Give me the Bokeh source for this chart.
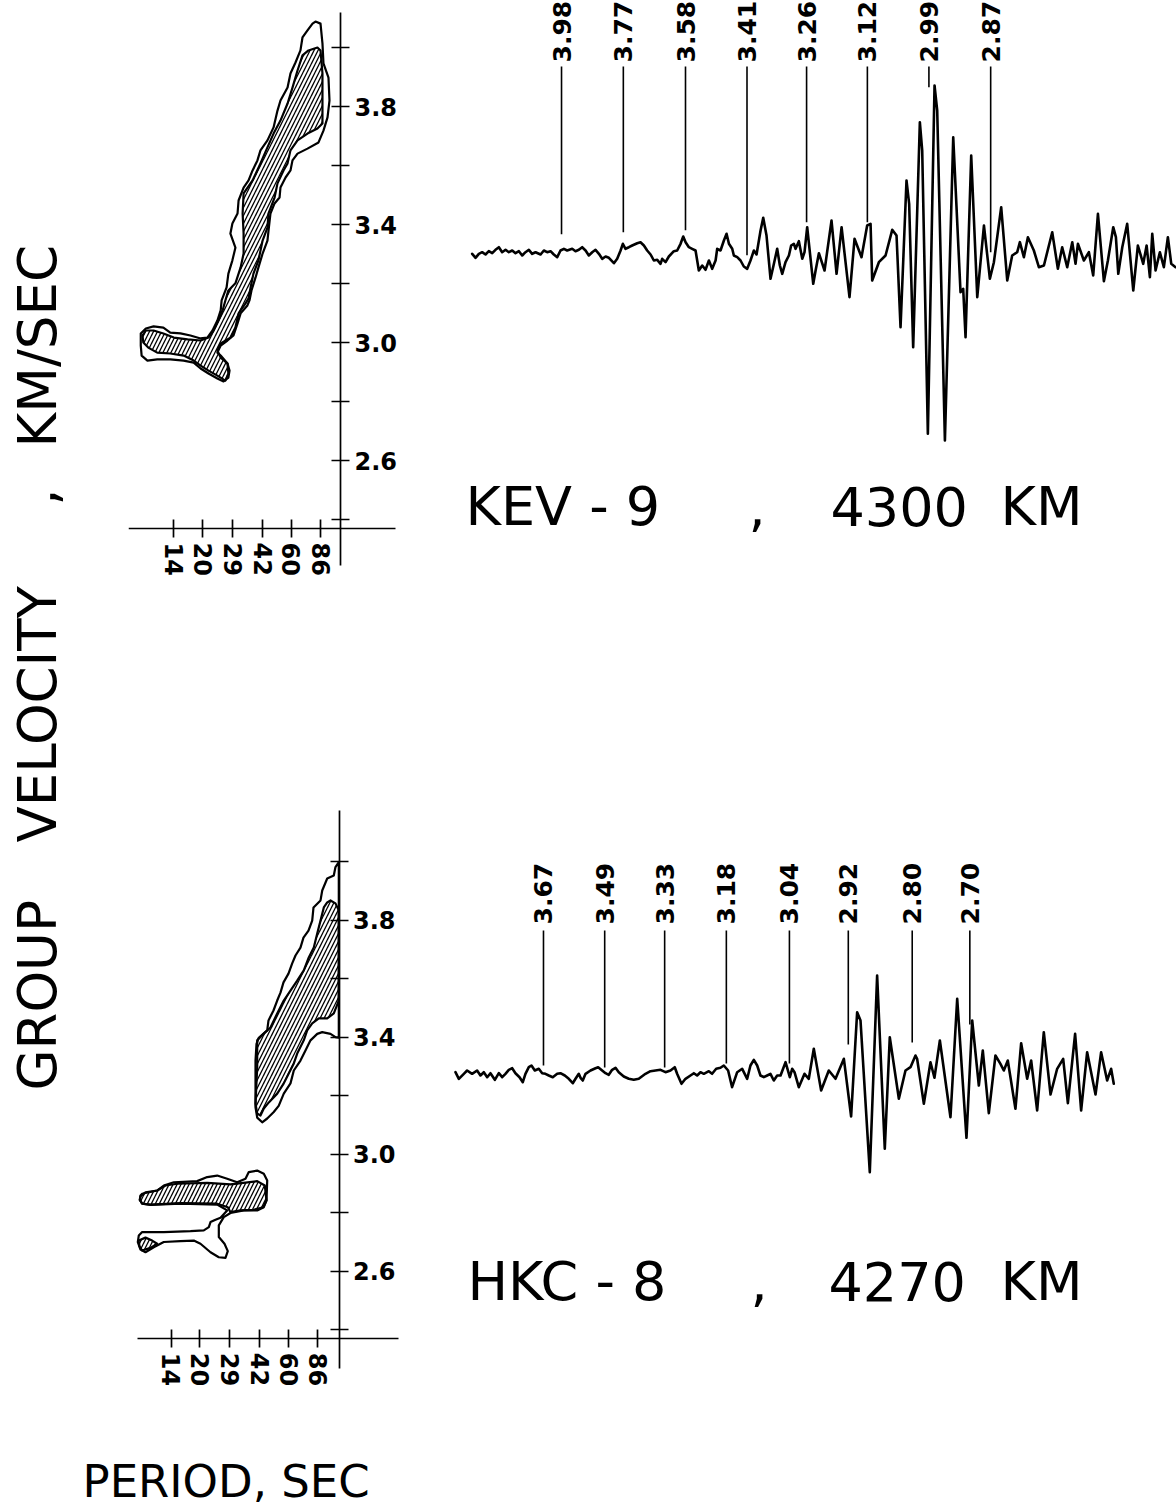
import math

from bokeh.core.properties import value
from bokeh.embed import file_html
from bokeh.layouts import column, row
from bokeh.models import (FixedTicker, Label, LinearAxis, LogAxis,
                          PrintfTickFormatter, Range1d)
from bokeh.plotting import figure
from bokeh.resources import INLINE

FONT = "DejaVu Sans"

# ---------------------------------------------------------------- axes ticks
PERIOD_TICKS = [14, 20, 29, 42, 60, 86]          # s
VEL_MAJOR = [2.6, 3.0, 3.4, 3.8]                 # km/s
VEL_MINOR = [2.4, 2.8, 3.2, 3.6, 4.0]

# ------------------------------------------------ KEV-9 group velocity diagram
KEV_OUTER_P = [80.8, 86.0, 88.1, 89.2, 94.9, 96.1, 93.8, 89.2, 83.9, 73.2,
               64.7, 60.8, 59.3, 55.8, 52.4, 51.8, 48.7, 46.3, 45.2, 44.6,
               42.0, 39.9, 38.5, 36.6, 35.7, 34.8, 32.0, 30.8, 29.3, 27.2,
               25.0, 24.0, 25.0, 27.2, 27.9, 27.5, 25.9, 24.0, 21.5, 19.5,
               17.9, 15.8, 13.4, 11.4, 10.1, 9.4, 9.3, 9.3, 9.9, 10.9,
               12.3, 13.4, 15.2, 17.2, 19.5, 21.2, 22.6, 24.0, 25.0, 25.3,
               26.9, 27.5, 28.9, 30.0, 28.2, 28.9, 30.8, 31.2, 33.2, 35.3,
               37.1, 39.4, 40.9, 44.6, 48.1, 50.5, 52.4, 57.2, 59.3, 63.1,
               67.1, 68.8, 73.2, 77.9]
KEV_OUTER_V = [4.089, 4.082, 4.015, 3.947, 3.899, 3.821, 3.764, 3.719, 3.679, 3.658,
               3.641, 3.618, 3.584, 3.560, 3.526, 3.492, 3.472, 3.438, 3.380, 3.346,
               3.302, 3.255, 3.221, 3.177, 3.143, 3.126, 3.099, 3.065, 3.024, 3.007,
               2.990, 2.966, 2.956, 2.929, 2.905, 2.881, 2.868, 2.878, 2.895, 2.912,
               2.932, 2.939, 2.943, 2.943, 2.939, 2.956, 2.990, 3.031, 3.048, 3.055,
               3.051, 3.034, 3.031, 3.024, 3.014, 3.017, 3.041, 3.075, 3.109, 3.143,
               3.187, 3.234, 3.279, 3.322, 3.370, 3.404, 3.438, 3.482, 3.526, 3.550,
               3.584, 3.618, 3.652, 3.686, 3.730, 3.787, 3.821, 3.865, 3.913, 3.950,
               3.991, 4.035, 4.059, 4.082]

KEV_CORE_P = [82.8, 86.0, 88.1, 88.1, 88.1, 82.8, 73.2, 64.7, 59.3, 57.2,
              54.4, 50.5, 48.7, 45.2, 44.6, 42.0, 39.9, 37.5, 36.2, 35.3,
              34.0, 31.2, 30.0, 28.2, 25.0, 24.0, 25.0, 27.2, 27.5, 26.5,
              24.0, 21.5, 19.5, 17.9, 15.8, 13.4, 11.4, 10.2, 9.6, 9.5,
              9.9, 10.9, 12.3, 14.0, 16.6, 19.5, 21.5, 22.9, 24.3, 25.6,
              26.5, 27.5, 30.0, 32.0, 33.2, 33.2, 32.8, 33.2, 37.1, 40.9,
              44.6, 48.1, 52.4, 57.2, 60.8, 64.7, 68.8, 74.1]
KEV_CORE_V = [4.001, 3.991, 3.913, 3.821, 3.743, 3.726, 3.709, 3.686, 3.652, 3.608,
              3.584, 3.540, 3.492, 3.438, 3.390, 3.346, 3.279, 3.234, 3.187, 3.150,
              3.133, 3.099, 3.051, 3.017, 2.997, 2.973, 2.949, 2.929, 2.895, 2.871,
              2.888, 2.905, 2.922, 2.939, 2.956, 2.963, 2.966, 2.983, 3.000, 3.024,
              3.041, 3.041, 3.031, 3.017, 3.011, 3.007, 3.017, 3.041, 3.075, 3.109,
              3.143, 3.177, 3.201, 3.255, 3.302, 3.370, 3.438, 3.506, 3.550, 3.608,
              3.662, 3.709, 3.753, 3.811, 3.865, 3.923, 3.974, 3.991]

# ------------------------------------------------ HKC-8 group velocity diagram
HKC_OUTER_P = [111.6, 107.1, 104.9, 96.67, 90.89, 88.99, 81.59, 80.28, 76.68, 72.05,
               69.42, 65.27, 62.66, 59.84, 56.26, 54.20, 52.04, 49.70, 46.72, 45.98,
               41.43, 40.27, 39.78, 39.78, 39.78, 40.62, 43.21, 45.98, 49.87, 53.0,
               56.45, 61.34, 63.92, 69.42, 73.87, 78.60, 85.43, 90.89, 100.7, 107.1,
               111.6, 111.6]
HKC_OUTER_V = [3.998, 3.981, 3.952, 3.942, 3.901, 3.867, 3.843, 3.798, 3.764, 3.740,
               3.706, 3.679, 3.652, 3.617, 3.587, 3.552, 3.525, 3.491, 3.457, 3.423,
               3.398, 3.377, 3.320, 3.235, 3.160, 3.125, 3.109, 3.122, 3.144, 3.165,
               3.207, 3.242, 3.286, 3.320, 3.354, 3.389, 3.411, 3.417, 3.411, 3.400,
               3.398, 3.700]

HKC_CORE_P = [100.7, 107.1, 111.6, 111.6, 104.9, 96.67, 87.14, 80.28, 75.45, 72.31,
              66.67, 63.92, 60.03, 56.45, 52.04, 46.90, 44.08, 42.31, 40.62, 39.78,
              40.62, 40.62, 44.08, 47.89, 52.04, 56.45, 61.34, 66.67, 72.31, 76.94,
              81.89, 85.43, 88.99, 92.69, 96.67]
HKC_CORE_V = [3.867, 3.857, 3.833, 3.525, 3.481, 3.464, 3.464, 3.447, 3.423, 3.389,
              3.344, 3.310, 3.276, 3.242, 3.207, 3.177, 3.156, 3.132, 3.139, 3.173,
              3.296, 3.389, 3.412, 3.433, 3.481, 3.525, 3.559, 3.593, 3.628, 3.672,
              3.706, 3.754, 3.798, 3.843, 3.860]

HKC_LOW_P = [9.57, 9.77, 11.77, 12.77, 14.46, 19.32, 21.87, 24.75, 28.01, 31.70,
             35.14, 36.60, 40.62, 44.08, 45.98, 45.58, 44.08, 40.62, 34.40, 29.18,
             26.85, 25.25, 25.25, 27.09, 28.22, 27.42, 25.25, 22.78, 20.12, 18.52,
             15.71, 12.77, 11.28, 10.18, 9.57, 9.26, 9.37, 9.77, 12.77, 17.78,
             20.97, 22.31, 22.78, 24.24, 25.78, 28.01, 24.75, 15.71, 10.83, 9.77,
             9.49]
HKC_LOW_V = [2.859, 2.865, 2.876, 2.893, 2.904, 2.908, 2.922, 2.927, 2.916, 2.904,
             2.916, 2.939, 2.944, 2.933, 2.910, 2.842, 2.819, 2.808, 2.808, 2.799,
             2.785, 2.757, 2.717, 2.694, 2.669, 2.646, 2.648, 2.665, 2.694, 2.705,
             2.703, 2.700, 2.682, 2.665, 2.674, 2.700, 2.722, 2.734, 2.734, 2.737,
             2.740, 2.751, 2.768, 2.776, 2.783, 2.808, 2.828, 2.831, 2.827, 2.831,
             2.844]

HKC_ARM_P = [9.57, 10.18, 11.77, 13.04, 15.08, 21.87, 29.18, 35.14, 40.62, 44.64,
             45.58, 43.75, 38.94, 33.03, 29.18, 28.22, 24.75, 15.71, 10.83, 9.77, 9.49]
HKC_ARM_V = [2.856, 2.870, 2.876, 2.893, 2.899, 2.902, 2.897, 2.903, 2.908, 2.893,
             2.842, 2.819, 2.810, 2.808, 2.802, 2.819, 2.831, 2.833, 2.828, 2.831, 2.844]

HKC_BLOB_P = [9.37, 10.18, 11.06, 11.77, 10.83, 9.77, 9.45]
HKC_BLOB_V = [2.705, 2.715, 2.705, 2.694, 2.680, 2.671, 2.685]

# ------------------------------------------------------------- seismograms
KEV_DIST = 4300.0   # km
KEV_VEL = [3.98, 3.77, 3.58, 3.41, 3.26, 3.12, 2.99, 2.87]
KEV_MARK_END = [18, 20, 22, -3, 30, 30, 165, 0]
KEV_T = [993.4, 996.7, 999.9, 1003.1, 1006.4, 1009.6, 1012.9, 1016.1, 1019.4, 1022.6,
         1025.9, 1029.1, 1032.4, 1035.6, 1038.9, 1042.1, 1045.3, 1048.6, 1051.8, 1055.1,
         1060.0, 1063.2, 1066.4, 1069.7, 1072.9, 1076.2, 1079.4, 1082.7, 1085.9, 1090.8,
         1094.0, 1097.3, 1100.5, 1103.8, 1107.0, 1110.3, 1113.5, 1116.8, 1120.0, 1123.3,
         1126.5, 1131.4, 1134.6, 1137.9, 1140.1, 1142.7, 1146.0, 1149.2, 1154.1, 1157.3,
         1160.6, 1163.8, 1167.1, 1170.3, 1173.6, 1176.8, 1178.4, 1181.7, 1184.9, 1189.8,
         1193.0, 1196.3, 1198.9, 1201.2, 1204.4, 1207.6, 1210.9, 1214.1, 1217.4, 1220.6,
         1223.9, 1227.1, 1230.4, 1232.0, 1235.2, 1238.5, 1241.1, 1243.4, 1246.6, 1248.2,
         1251.5, 1254.7, 1257.9, 1261.2, 1264.4, 1267.7, 1270.3, 1274.2, 1276.8, 1280.0,
         1283.9, 1287.2, 1290.4, 1293.0, 1295.3, 1298.5, 1301.8, 1304.0, 1306.6, 1308.3,
         1311.5, 1314.8, 1317.0, 1319.6, 1322.9, 1325.5, 1327.8, 1331.0, 1336.5, 1343.3,
         1348.2, 1353.1, 1360.8, 1365.7, 1372.5, 1378.0, 1381.3, 1382.9, 1389.4, 1395.9,
         1402.4, 1406.6, 1410.5, 1416.3, 1418.9, 1422.8, 1429.3, 1431.6, 1437.1, 1443.6,
         1446.2, 1453.7, 1461.8, 1468.9, 1471.5, 1473.8, 1479.3, 1485.2, 1491.7, 1497.5,
         1501.4, 1508.5, 1514.4, 1519.2, 1524.1, 1526.7, 1530.6, 1534.5, 1540.3, 1545.2,
         1550.1, 1558.2, 1563.7, 1567.9, 1572.8, 1577.7, 1580.9, 1583.2, 1589.0, 1593.9,
         1598.1, 1602.7, 1608.5, 1612.4, 1617.6, 1620.2, 1622.5, 1626.4, 1631.2, 1637.1,
         1641.6, 1646.8, 1650.1, 1653.3, 1655.6, 1658.8, 1663.0, 1666.9, 1670.8, 1674.1,
         1678.3]
KEV_A = [-1.6, -5.6, -1.6, 0.0, -2.3, 1.0, -1.0, 2.4, 5.0, 0.0,
         2.4, 0.0, 1.7, -1.0, 1.0, -3.3, 0.0, 2.4, -1.6, 0.0,
         -2.3, 1.7, 0.0, 1.0, -2.3, -5.0, 1.7, 3.4, 1.7, 3.4,
         1.0, 2.4, 5.0, 1.7, -3.3, 0.0, 2.4, -1.6, -6.6, -4.3,
         -5.6, -11.0, -6.6, 1.7, 8.4, 3.4, 5.0, 6.7, 9.0, 10.0,
         6.7, 1.7, -2.3, -8.3, -7.6, -11.6, -6.6, -10.0, -4.3, 1.0,
         1.7, 8.4, 15.7, 10.0, 5.0, 3.4, 1.7, -18.3, -13.3, -17.6,
         -8.3, -16.6, -8.3, 3.4, 1.7, 11.7, 18.4, 8.4, 3.4, -3.3,
         -5.0, -8.3, -14.3, -16.6, -8.3, 1.7, -2.3, 21.7, 34.4, 16.7,
         -26.6, -11.6, 3.4, -13.3, -21.6, -10.0, -3.3, 6.7, 8.4, 3.4,
         11.0, -6.6, 0.0, 25.0, -6.6, -31.6, -18.3, -1.0, -18.3, 31.7,
         -21.6, 25.0, -45.0, 13.4, -5.0, 26.7, 28.4, -28.3, -10.0, -3.3,
         22.4, 16.7, -75.0, 71.7, 48.4, -95.0, 130.0, 101.7, -181.6, 166.7,
         141.7, -188.3, 115.0, -40.0, -36.6, -85.0, 96.7, -45.0, 26.7, -26.6,
         -10.0, 45.0, -28.3, -3.3, 0.0, 10.0, -5.0, 15.0, 1.7, -15.0,
         -13.3, 20.0, -16.6, 5.0, -15.0, 10.0, -11.6, 8.4, -8.3, 0.0,
         -23.3, 38.4, -29.0, -8.3, 25.0, 15.0, -21.6, 5.0, 28.4, -38.3,
         6.7, -11.6, 6.7, -25.0, 18.4, -18.3, 0.0, -15.0, 15.0, -11.6,
         -15.0]

HKC_DIST = 4270.0   # km
HKC_VEL = [3.67, 3.49, 3.33, 3.18, 3.04, 2.92, 2.80, 2.70]
HKC_MARK_END = [9, 7, 7, 11, 11, 30, 32, 50]
HKC_T = [1077.2, 1080.5, 1085.4, 1088.6, 1093.5, 1098.4, 1101.7, 1105.0, 1108.3, 1111.5,
         1115.8, 1119.7, 1123.0, 1126.2, 1129.5, 1132.8, 1136.0, 1140.0, 1143.2, 1145.8,
         1149.1, 1151.7, 1155.0, 1158.9, 1162.2, 1165.4, 1168.7, 1172.6, 1176.9, 1180.1,
         1184.4, 1188.3, 1192.2, 1194.9, 1198.1, 1199.8, 1202.0, 1204.7, 1209.6, 1214.5,
         1217.1, 1221.0, 1224.3, 1227.5, 1230.8, 1234.1, 1237.3, 1242.2, 1247.1, 1252.0,
         1256.9, 1263.5, 1268.4, 1273.3, 1278.2, 1283.1, 1288.0, 1292.2, 1294.5, 1298.8,
         1302.7, 1307.6, 1310.9, 1314.1, 1317.4, 1320.7, 1325.6, 1328.8, 1332.8, 1337.0,
         1340.3, 1344.5, 1348.4, 1353.4, 1358.3, 1363.2, 1366.4, 1369.7, 1373.0, 1376.2,
         1379.5, 1382.8, 1386.0, 1389.3, 1392.6, 1395.9, 1400.8, 1405.0, 1407.3, 1409.6,
         1413.8, 1419.4, 1423.6, 1428.5, 1435.7, 1443.2, 1449.8, 1458.0, 1465.1, 1471.0,
         1474.3, 1483.4, 1490.6, 1498.1, 1503.0, 1511.9, 1518.4, 1523.3, 1528.2, 1529.8,
         1536.4, 1542.9, 1546.8, 1552.1, 1562.5, 1569.1, 1578.2, 1583.8, 1590.3, 1594.2,
         1600.1, 1606.6, 1611.5, 1614.8, 1618.7, 1626.2, 1631.8, 1637.7, 1641.6, 1647.5,
         1654.0, 1660.6, 1667.1, 1673.0, 1677.6, 1684.7, 1690.6, 1696.5, 1704.7, 1710.2,
         1716.1, 1720.0, 1722.6]
HKC_A = [2.3, -4.3, 0.7, 4.0, 0.7, 4.0, -1.0, 2.3, -2.7, 1.3,
         -5.3, 1.3, -2.7, 0.7, 4.7, 6.3, 1.3, -2.7, -7.7, 0.7,
         7.3, 9.0, 4.0, 5.7, 1.3, 0.7, -1.0, -2.7, 0.7, 1.3,
         -1.0, -4.3, -8.7, -4.3, 0.7, -3.3, -6.0, 0.7, 4.0, 6.3,
         7.3, 4.0, 1.3, -0.3, 4.7, 6.7, 2.3, -2.0, -4.3, -5.3,
         -4.3, 0.7, 3.3, 4.0, 4.7, 2.3, 4.0, 7.3, 0.7, -9.3,
         -4.3, -1.0, 1.3, -1.0, 2.3, 0.7, 3.3, 0.7, 5.7, 6.7,
         9.0, 4.0, -12.7, 2.3, 5.7, -4.3, 9.0, 14.7, 9.0, -1.0,
         -2.7, -1.0, 0.7, -6.0, -1.0, -1.0, 12.3, -2.7, 5.7, 2.3,
         -12.7, 0.7, -4.3, 25.7, -16.0, 4.0, -4.3, 15.7, -42.0, 62.3,
         54.0, -97.7, 99.0, -74.3, 37.3, -24.3, 4.0, 7.3, 19.0, 15.7,
         -29.3, 12.3, -3.3, 34.0, -42.7, 75.7, -63.3, 54.0, -11.0, 24.0,
         -38.7, 19.0, 10.7, 4.0, 14.0, -34.3, 31.3, -4.3, 14.0, -36.0,
         42.3, -20.0, 5.7, 15.7, -28.7, 40.7, -36.0, 22.3, -20.0, 22.3,
         -6.0, 5.7, -9.3]


def blank(width, height, x_range, y_range, x_axis_type="linear"):
    p = figure(width=width, height=height, x_range=x_range, y_range=y_range,
               x_axis_type=x_axis_type, x_axis_location=None, y_axis_location=None,
               toolbar_location=None, output_backend="svg", min_border=0,
               outline_line_color=None, background_fill_color="white",
               border_fill_color="white")
    p.grid.visible = False
    return p


def velocity_axes(p, x_at, v_bounds, v_at, p_bounds):
    yax = LinearAxis(fixed_location=x_at, bounds=v_bounds,
                     ticker=FixedTicker(ticks=VEL_MAJOR, minor_ticks=VEL_MINOR),
                     formatter=PrintfTickFormatter(format="%.1f"))
    xax = LogAxis(fixed_location=v_at, bounds=p_bounds,
                  ticker=FixedTicker(ticks=PERIOD_TICKS, minor_ticks=[]),
                  formatter=PrintfTickFormatter(format="%d"),
                  major_label_orientation="vertical")
    for ax, size in ((yax, "24px"), (xax, "24px")):
        ax.axis_line_width = 1.7
        ax.major_tick_line_width = 1.7
        ax.minor_tick_line_width = 1.7
        ax.major_tick_in = 9
        ax.major_tick_out = 9
        ax.minor_tick_in = 9
        ax.minor_tick_out = 9
        ax.major_label_standoff = 5
        ax.major_label_text_font = FONT
        ax.major_label_text_font_style = "bold"
        ax.major_label_text_font_size = size
        ax.major_label_text_color = "black"
    p.add_layout(yax, "right")
    p.add_layout(xax, "below")


def outline(p, xs, ys):
    p.patch(xs, ys, fill_color=None, line_color="black", line_width=2.2,
            line_join="round")


def hatched(p, xs, ys):
    p.patch(xs, ys, fill_color=None, hatch_pattern="/", hatch_color="black",
            hatch_scale=8, hatch_weight=1.3, line_color="black", line_width=2.2,
            line_join="round")


# ----------------------------------------------------------- dispersion plots
disp_top = blank(280, 620, Range1d(7.99, 255.5), Range1d(2.0573, 4.1604), "log")
outline(disp_top, KEV_OUTER_P, KEV_OUTER_V)
hatched(disp_top, KEV_CORE_P, KEV_CORE_V)
velocity_axes(disp_top, 110.1, (2.2439, 4.1197), 2.3694, (8.0, 217.5))

disp_bot = blank(280, 820, Range1d(8.25, 264.6), Range1d(2.0219, 4.8234), "log")
outline(disp_bot, HKC_OUTER_P, HKC_OUTER_V)
hatched(disp_bot, HKC_CORE_P, HKC_CORE_V)
outline(disp_bot, HKC_LOW_P, HKC_LOW_V)
hatched(disp_bot, HKC_ARM_P, HKC_ARM_V)
hatched(disp_bot, HKC_BLOB_P, HKC_BLOB_V)
velocity_axes(disp_bot, 111.9, (2.2668, 4.1742), 2.3693, (9.19, 233.8))


# ---------------------------------------------------------------- seismograms
def seismogram(p, t, a, dist, vels, mark_end, mark_top, label_base):
    p.line(t, a, line_color="black", line_width=2.6, line_join="round",
           line_cap="round")
    arrival = [dist / v for v in vels]
    p.segment(x0=arrival, y0=[mark_top] * len(vels), x1=arrival, y1=mark_end,
              line_color="black", line_width=1.6)
    p.text(x=arrival, y=[label_base] * len(vels), text=[f"{v:.2f}" for v in vels],
           angle=math.pi / 2, text_align="left", text_baseline="middle",
           text_font=value(FONT), text_font_style="bold", text_font_size="25px",
           text_color="black")


def title(p, pieces, y):
    for x, txt in pieces:
        p.add_layout(Label(x=x, y=y, x_units="screen", y_units="screen", text=txt,
                           text_font=FONT, text_font_size="54px",
                           text_baseline="alphabetic", text_color="black"))


wave_top = blank(768, 620, Range1d(931.4, 1679.2), Range1d(-368.3, 251.7))
seismogram(wave_top, KEV_T, KEV_A, KEV_DIST, KEV_VEL, KEV_MARK_END, 185.7, 189.7)
title(wave_top, [(57, "KEV - 9"), (340, ","), (422, "4300"), (592, "KM")], 114)

wave_bot = blank(768, 820, Range1d(1031.15, 1784.1), Range1d(-366.0, 454.0))
seismogram(wave_bot, HKC_T, HKC_A, HKC_DIST, HKC_VEL, HKC_MARK_END, 144.0, 150.0)
title(wave_bot, [(59, "HKC - 8"), (342, ","), (420, "4270"), (592, "KM")], 159)

# ------------------------------------------------------------- axis captions
side = blank(128, 1440, Range1d(0, 1), Range1d(0, 1))
for y, txt in ((350, "GROUP"), (598, "VELOCITY"), (935, ","), (993, "KM/SEC")):
    side.add_layout(Label(x=37, y=y, x_units="screen", y_units="screen", text=txt,
                          angle=math.pi / 2, text_font=FONT, text_font_size="53px",
                          text_baseline="alphabetic", text_align="left",
                          text_color="black"))

foot = blank(1176, 72, Range1d(0, 1), Range1d(0, 1))
foot.add_layout(Label(x=82, y=31, x_units="screen", y_units="screen",
                      text="PERIOD, SEC", text_font=FONT, text_font_size="45px",
                      text_baseline="alphabetic", text_color="black"))

page = column(row(side, column(disp_top, disp_bot), column(wave_top, wave_bot)), foot)

with open("out.html", "w") as fh:
    fh.write(file_html(page, INLINE))
